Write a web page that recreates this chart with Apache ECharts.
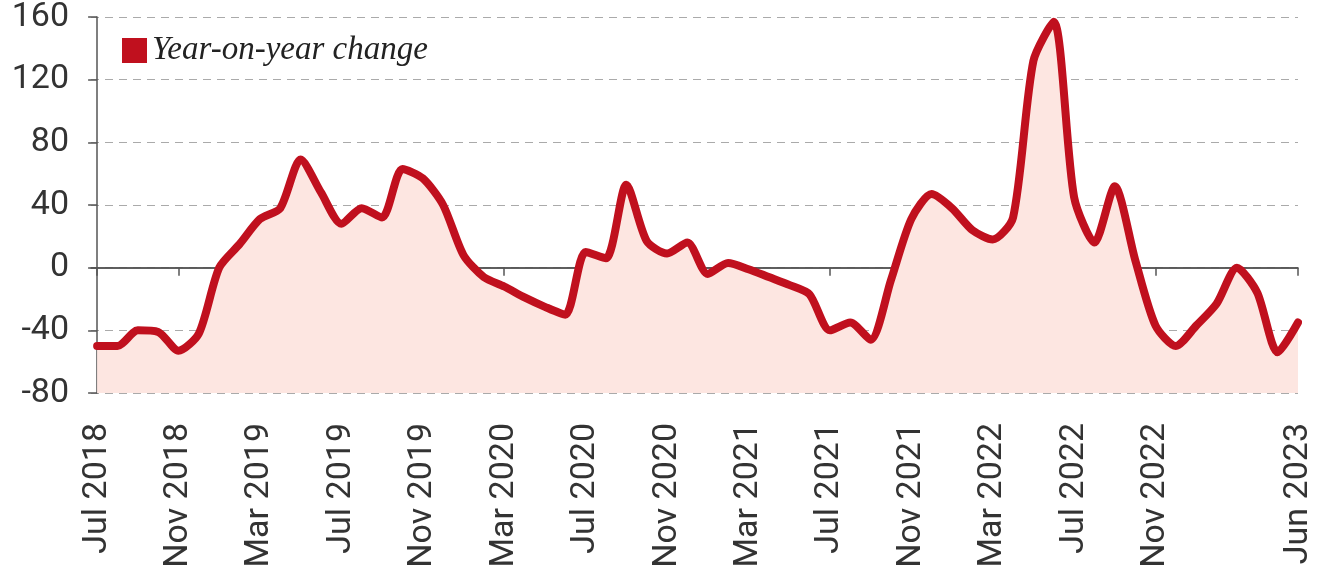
<!DOCTYPE html>
<html>
<head>
<meta charset="utf-8">
<script src="https://cdn.jsdelivr.net/npm/echarts@6/dist/echarts.min.js"></script>
<style>html,body{margin:0;padding:0;background:#fff;}#c{width:1333px;height:583px;}</style>
</head>
<body>
<div id="c"></div>
<script>
const months = ['Jul 2018','Aug 2018','Sep 2018','Oct 2018','Nov 2018','Dec 2018',
  'Jan 2019','Feb 2019','Mar 2019','Apr 2019','May 2019','Jun 2019','Jul 2019','Aug 2019','Sep 2019','Oct 2019','Nov 2019','Dec 2019',
  'Jan 2020','Feb 2020','Mar 2020','Apr 2020','May 2020','Jun 2020','Jul 2020','Aug 2020','Sep 2020','Oct 2020','Nov 2020','Dec 2020',
  'Jan 2021','Feb 2021','Mar 2021','Apr 2021','May 2021','Jun 2021','Jul 2021','Aug 2021','Sep 2021','Oct 2021','Nov 2021','Dec 2021',
  'Jan 2022','Feb 2022','Mar 2022','Apr 2022','May 2022','Jun 2022','Jul 2022','Aug 2022','Sep 2022','Oct 2022','Nov 2022','Dec 2022',
  'Jan 2023','Feb 2023','Mar 2023','Apr 2023','May 2023','Jun 2023'];
const yoyChange = [-50,-50,-40,-41,-53,-42,0,15,31,38,
  69,48,28,38,32,63,57,40,8,-6,
  -12,-19,-25,-30,10,6,53,17,9,16,
  -4,3,-1,-6,-11,-17,-40,-35,-46,-8,
  31,47,38,24,18,32,132,157,45,16,
  52,5,-37,-50,-37,-23,0,-16,-54,-35];
const tickMonths = ['Jul 2018','Nov 2018','Mar 2019','Jul 2019','Nov 2019','Mar 2020','Jul 2020','Nov 2020',
  'Mar 2021','Jul 2021','Nov 2021','Mar 2022','Jul 2022','Nov 2022','Jun 2023'];
const yTicks = [-80,-40,0,40,80,120,160];

const tickIdx = tickMonths.map(m => months.indexOf(m));
const seriesData = yoyChange.map((v, i) => [i, v]);
const RED = '#c0101e';

const chart = echarts.init(document.getElementById('c'), null, {renderer: 'canvas'});
chart.setOption({
  animation: false,
  backgroundColor: '#fff',
  grid: {left: 91, right: 35, top: 15, bottom: 190, containLabel: false},
  legend: {
    data: ['Year-on-year change'],
    left: 117, top: 29,
    icon: 'rect', itemWidth: 25, itemHeight: 25, itemGap: 6,
    textStyle: {fontFamily: 'Liberation Serif', fontStyle: 'italic', fontSize: 33, color: '#222'}
  },
  xAxis: {
    type: 'value', min: -0.3, max: months.length - 1,
    axisLine: {show: true, lineStyle: {color: '#555', width: 1.5}},
    axisTick: {show: true, customValues: tickIdx, length: 8, lineStyle: {color: '#555', width: 1.5}},
    axisLabel: {customValues: tickIdx, rotate: 90, margin: 30, fontSize: 34, color: '#333', fontFamily: 'Roboto',
      formatter: v => months[Math.round(v)]},
    splitLine: {show: false}
  },
  yAxis: {
    type: 'value', min: yTicks[0], max: yTicks[yTicks.length - 1], interval: 40,
    axisLine: {show: true, lineStyle: {color: '#555', width: 1.5}},
    axisTick: {show: true, length: 9, lineStyle: {color: '#555', width: 1.5}},
    axisLabel: {fontSize: 34, color: '#333', fontFamily: 'Roboto', margin: 22, padding: [8, 0, 0, 0]},
    splitLine: {lineStyle: {type: [8, 6], color: '#aaa', width: 1.2}}
  },
  series: [{
    name: 'Year-on-year change',
    type: 'line',
    data: seriesData,
    showSymbol: false,
    smooth: 0.25,
    itemStyle: {color: RED},
    lineStyle: {color: RED, width: 8, join: 'round', cap: 'round'},
    areaStyle: {color: '#fde6e1', origin: 'start', opacity: 1},
    z: 3,
    markLine: {
      silent: true, symbol: 'none', label: {show: false},
      lineStyle: {type: 'solid', color: '#555', width: 1.5},
      data: [{yAxis: 0}],
      z: 2
    }
  }]
});
</script>
</body>
</html>
